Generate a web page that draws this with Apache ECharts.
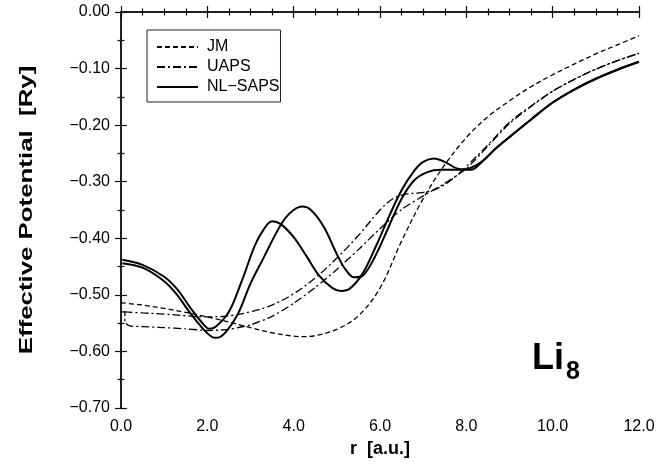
<!DOCTYPE html>
<html>
<head>
<meta charset="utf-8">
<script src="https://cdn.jsdelivr.net/npm/echarts@6/dist/echarts.min.js"></script>
<style>
html,body{margin:0;padding:0;background:#fff;}
#c{width:669px;height:464px;}
</style>
</head>
<body>
<div id="c"></div>
<script>
// ---- data ----
const rJM = [0.0,0.5,1.0,1.5,2.0,2.5,3.0,3.5,4.0,4.2,4.5,5.0,5.5,6.0,6.5,7.0,7.5,8.0,8.5,9.0,9.5,10.0,10.5,11.0,11.5,12.0];
const vJM = [-0.514,-0.518,-0.524,-0.531,-0.539,-0.548,-0.558,-0.567,-0.573,-0.574,-0.572,-0.561,-0.537,-0.488,-0.405,-0.330,-0.270,-0.222,-0.185,-0.157,-0.132,-0.111,-0.092,-0.074,-0.058,-0.042];

const rUAPS1 = [0.08,0.5,1.0,1.5,2.0,2.5,3.0,3.5,4.0,4.5,5.0,5.5,6.0,6.3,6.6,7.0,7.3,7.6,8.0,8.5,9.0,9.5,10.0,10.5,11.0,11.5,12.0];
const vUAPS1 = [-0.530,-0.532,-0.534,-0.537,-0.539,-0.537,-0.530,-0.518,-0.498,-0.470,-0.435,-0.395,-0.350,-0.330,-0.322,-0.319,-0.313,-0.300,-0.273,-0.235,-0.195,-0.166,-0.140,-0.119,-0.101,-0.086,-0.073];

const rUAPS2 = [0.0,0.09,0.09,0.2,0.5,1.0,1.5,2.0,2.5,3.0,3.5,4.0,4.5,5.0,5.5,6.0,6.5,7.0,7.5,8.0,8.5,9.0,9.5,10.0,10.5,11.0,11.5,12.0];
const vUAPS2 = [-0.530,-0.530,-0.548,-0.555,-0.556,-0.558,-0.560,-0.563,-0.561,-0.553,-0.538,-0.515,-0.487,-0.455,-0.420,-0.383,-0.349,-0.325,-0.303,-0.277,-0.237,-0.197,-0.167,-0.140,-0.119,-0.101,-0.086,-0.073];

const rNL1 = [0.03,0.5,1.0,1.3,1.6,1.9,2.05,2.2,2.5,2.8,3.1,3.3,3.5,3.7,4.0,4.3,4.6,4.9,5.1,5.3,5.6,5.9,6.2,6.5,6.8,7.0,7.25,7.5,7.8,8.1,8.4,8.7,9.0,9.5,10.0,10.5,11.0,11.5,12.0];
const vNL1 = [-0.438,-0.447,-0.468,-0.490,-0.522,-0.551,-0.560,-0.556,-0.530,-0.475,-0.413,-0.385,-0.370,-0.375,-0.398,-0.432,-0.467,-0.488,-0.493,-0.489,-0.462,-0.415,-0.363,-0.315,-0.280,-0.265,-0.259,-0.265,-0.277,-0.279,-0.262,-0.240,-0.221,-0.190,-0.160,-0.137,-0.118,-0.102,-0.088];

const rNL2 = [0.03,0.5,1.0,1.3,1.6,1.9,2.1,2.2,2.4,2.7,3.0,3.3,3.6,3.8,4.0,4.2,4.4,4.7,5.0,5.2,5.4,5.6,5.9,6.2,6.5,6.8,7.1,7.4,7.7,8.0,8.2,8.4,8.7,9.0,9.5,10.0,10.5,11.0,11.5,12.0];
const vNL2 = [-0.444,-0.452,-0.476,-0.500,-0.532,-0.560,-0.574,-0.576,-0.568,-0.535,-0.480,-0.435,-0.390,-0.365,-0.350,-0.344,-0.350,-0.380,-0.428,-0.455,-0.469,-0.466,-0.430,-0.380,-0.330,-0.297,-0.283,-0.279,-0.279,-0.278,-0.272,-0.262,-0.240,-0.221,-0.190,-0.160,-0.137,-0.118,-0.102,-0.088];

const legendNames = ['JM','UAPS','NL\u2212SAPS'];
const xTitle = 'r  [a.u.]';
const yTitle = 'Effective Potential  [Ry]';
const molecule = 'Li';
const moleculeSub = '8';

function zip(r, v){ return r.map((x,i)=>[x, v[i]]); }

const FONT = 'Liberation Sans, Arial, Helvetica, sans-serif';
const chart = echarts.init(document.getElementById('c'), null, {renderer:'canvas'});

const axisCommon = {
  type:'value',
  axisLine:{show:true, lineStyle:{color:'#111', width:1.5}},
  axisTick:{show:true, inside:true, length:6, lineStyle:{color:'#111', width:1.2}},
  minorTick:{show:true, length:3.5, lineStyle:{color:'#111', width:1.2}},
  splitLine:{show:false},
  minorSplitLine:{show:false}
};

const solid = {color:'#000', width:2, type:'solid'};
const dashed = {color:'#000', width:1.3, type:[5,3]};
const dashdot = {color:'#000', width:1.3, type:[8,3,2,3]};

chart.setOption({
  animation:false,
  backgroundColor:'#fff',
  textStyle:{fontFamily:FONT},
  grid:{left:121, right:30, top:12, bottom:56, containLabel:false},
  legend:{
    data:legendNames,
    orient:'vertical',
    left:147, top:30,
    padding:[9,1,7,9],
    itemGap:4,
    itemWidth:41, itemHeight:14,
    borderColor:'#222', borderWidth:1,
    itemStyle:{color:'rgba(0,0,0,0)', borderWidth:0, opacity:0},
    textStyle:{fontFamily:FONT, fontSize:16, color:'#000', padding:[0,0,0,4]},
    selectedMode:false
  },
  xAxis:[
    Object.assign({}, axisCommon, {
      min:0, max:12, interval:2, position:'bottom',
      minorTick:Object.assign({}, axisCommon.minorTick, {splitNumber:4}),
      axisLabel:{show:true, margin:11, fontSize:16, color:'#000', fontFamily:FONT,
        formatter:v=>v.toFixed(1)},
      name:xTitle, nameLocation:'middle', nameGap:30,
      nameTextStyle:{fontSize:18, fontWeight:'bold', color:'#000', fontFamily:FONT}
    }),
    Object.assign({}, axisCommon, {
      min:0, max:12, interval:2, position:'top',
      minorTick:Object.assign({}, axisCommon.minorTick, {splitNumber:4}),
      axisLabel:{show:false}
    })
  ],
  yAxis:[
    Object.assign({}, axisCommon, {
      min:-0.7, max:0, interval:0.1, position:'left',
      minorTick:Object.assign({}, axisCommon.minorTick, {splitNumber:2}),
      axisLabel:{show:true, margin:11, fontSize:16, color:'#000', fontFamily:FONT,
        formatter:v=>{ const a=Math.abs(v); return (v< -1e-9?'\u2212':'')+a.toFixed(2);} }
    }),
    Object.assign({}, axisCommon, {
      min:-0.7, max:0, interval:0.1, position:'right',
      minorTick:Object.assign({}, axisCommon.minorTick, {splitNumber:2}),
      axisLabel:{show:false}
    })
  ],
  series:[
    {name:legendNames[0], type:'line', data:zip(rJM,vJM), showSymbol:false, symbol:'none', smooth:0.35, lineStyle:dashed, itemStyle:{color:'#000'}},
    {name:legendNames[1], type:'line', data:zip(rUAPS1,vUAPS1), showSymbol:false, symbol:'none', smooth:0.35, lineStyle:dashdot, itemStyle:{color:'#000'}},
    {name:legendNames[1], type:'line', data:zip(rUAPS2,vUAPS2), showSymbol:false, symbol:'none', smooth:0.2, lineStyle:dashdot, itemStyle:{color:'#000'}},
    {name:legendNames[2], type:'line', data:zip(rNL1,vNL1), showSymbol:false, symbol:'none', smooth:0.35, lineStyle:solid, itemStyle:{color:'#000'}},
    {name:legendNames[2], type:'line', data:zip(rNL2,vNL2), showSymbol:false, symbol:'none', smooth:0.35, lineStyle:solid, itemStyle:{color:'#000'}}
  ],
  graphic:[
    {type:'text', x:27, y:210, rotation:Math.PI/2, scaleX:1.36, scaleY:1,
      style:{text:yTitle, font:'bold 19px '+FONT, fill:'#000', align:'center', verticalAlign:'middle'}},
    {type:'text', left:532, top:341, style:{text:molecule, font:'bold 36px '+FONT, fill:'#000'}},
    {type:'text', left:566, top:360, style:{text:moleculeSub, font:'bold 25px '+FONT, fill:'#000'}}
  ]
});
</script>
</body>
</html>
